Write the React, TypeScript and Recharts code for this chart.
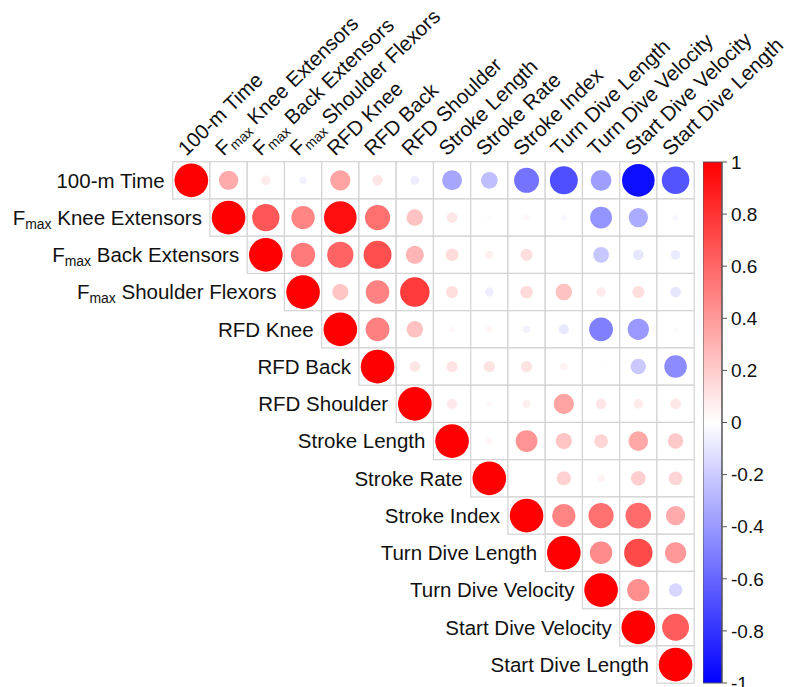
import { ScatterChart, Scatter, XAxis, YAxis, BarChart, Bar } from 'recharts'

// variable names; "_max" marks the subscript in F_max
const variables = [
  '100-m Time',
  'F_max Knee Extensors',
  'F_max Back Extensors',
  'F_max Shoulder Flexors',
  'RFD Knee',
  'RFD Back',
  'RFD Shoulder',
  'Stroke Length',
  'Stroke Rate',
  'Stroke Index',
  'Turn Dive Length',
  'Turn Dive Velocity',
  'Start Dive Velocity',
  'Start Dive Length',
]

// upper triangle of the correlation matrix, each row starts at the diagonal
const time100 = [1, 0.33, 0.08, -0.05, 0.36, 0.1, -0.07, -0.35, -0.25, -0.55, -0.69, -0.38, -0.94, -0.67]
const fmaxKnee = [1, 0.66, 0.48, 0.94, 0.56, 0.24, 0.1, -0.02, 0.03, -0.03, -0.42, -0.33, -0.03]
const fmaxBack = [1, 0.52, 0.61, 0.69, 0.29, 0.14, 0.06, 0.13, 0.01, -0.22, -0.1, -0.08]
const fmaxShoulder = [1, 0.23, 0.49, 0.77, 0.13, -0.07, 0.14, 0.24, 0.08, 0.13, -0.1]
const rfdKnee = [1, 0.5, 0.24, 0.03, 0.04, -0.05, -0.09, -0.5, -0.4, 0.02]
const rfdBack = [1, 0.1, 0.11, 0.11, 0.11, 0.05, 0.01, -0.21, -0.45]
const rfdShoulder = [1, 0.09, 0.03, 0.06, 0.36, 0.1, 0.08, 0.1]
const strokeLength = [1, 0.04, 0.42, 0.23, 0.17, 0.34, 0.21]
const strokeRate = [1, 0.01, 0.18, 0.05, 0.19, 0.17]
const strokeIndex = [1, 0.48, 0.56, 0.58, 0.33]
const turnDiveLength = [1, 0.45, 0.71, 0.4]
const turnDiveVelocity = [1, 0.44, -0.16]
const startDiveVelocity = [1, 0.64]
const startDiveLength = [1]

const rows = [
  time100, fmaxKnee, fmaxBack, fmaxShoulder, rfdKnee, rfdBack, rfdShoulder,
  strokeLength, strokeRate, strokeIndex, turnDiveLength, turnDiveVelocity,
  startDiveVelocity, startDiveLength,
]

const scaleTicks = [-1, -0.8, -0.6, -0.4, -0.2, 0, 0.2, 0.4, 0.6, 0.8, 1]

const W = 791
const H = 687
const N = variables.length
const LEFT = 172.7
const TOP = 161.7
const CELL = 37.25
const FONT = '"Liberation Sans", Arial, sans-serif'
const FS = 20.5

const cells = rows.flatMap((vals, i) => vals.map((r, k) => ({ x: i + k, y: i, r })))
const idx = variables.map((_, i) => i)

function corrColor(r: number) {
  const t = Math.round(255 * (1 - Math.abs(r)))
  return r >= 0 ? `rgb(255,${t},${t})` : `rgb(${t},${t},255)`
}

function labelParts(text: string) {
  if (!text.startsWith('F_max')) return text
  return [
    'F',
    <tspan key="s" fontSize="0.68em" dy={4}>max</tspan>,
    <tspan key="r" dy={-4}>{text.slice(5)}</tspan>,
  ]
}

function CellShape(props: any) {
  const { cx, cy, payload } = props
  const rad = (CELL / 2 - 1.8) * Math.sqrt(Math.abs(payload.r))
  return (
    <g>
      <rect x={cx - CELL / 2} y={cy - CELL / 2} width={CELL} height={CELL} fill="#fff" stroke="#d3d3d3" strokeWidth={1.2} />
      <circle cx={cx} cy={cy} r={rad} fill={corrColor(payload.r)} />
    </g>
  )
}

function RowTick(props: any) {
  const { y, payload } = props
  const x = LEFT + payload.value * CELL - 8
  return (
    <text x={x} y={y} dy="0.36em" textAnchor="end" fontSize={FS} fontFamily={FONT} fill="#111">
      {labelParts(variables[payload.value])}
    </text>
  )
}

function ColTick(props: any) {
  const { x, payload } = props
  const tx = x - 5
  const ty = TOP - 5
  return (
    <text x={tx} y={ty} transform={`rotate(-44, ${tx}, ${ty})`} textAnchor="start" fontSize={FS} fontFamily={FONT} fill="#111">
      {labelParts(variables[payload.value])}
    </text>
  )
}

export default function App() {
  return (
    <div style={{ position: 'absolute', left: 0, top: 0, width: W, height: H, background: '#fff' }}>
      <ScatterChart
        width={W}
        height={H}
        margin={{ top: 0, left: 0, right: W - LEFT - N * CELL, bottom: H - TOP - N * CELL }}
      >
        <XAxis
          type="number" dataKey="x" orientation="top" height={TOP}
          domain={[-0.5, N - 0.5]} ticks={idx} interval={0}
          axisLine={false} tickLine={false} tick={ColTick}
        />
        <YAxis
          type="number" dataKey="y" reversed width={LEFT}
          domain={[-0.5, N - 0.5]} ticks={idx} interval={0}
          axisLine={false} tickLine={false} tick={RowTick}
        />
        <Scatter data={cells} shape={CellShape} isAnimationActive={false} />
      </ScatterChart>

      <div style={{ position: 'absolute', left: 703, top: 0 }}>
        <BarChart
          width={88}
          height={H}
          data={[{ k: 'scale', v: [-1, 1] }]}
          margin={{ top: 162, bottom: 4, left: 0, right: 0 }}
          barCategoryGap={0}
        >
          <defs>
            <linearGradient id="cbGrad" x1="0" y1="0" x2="0" y2="1">
              <stop offset="0" stopColor="#ff0000" />
              <stop offset="0.5" stopColor="#ffffff" />
              <stop offset="1" stopColor="#0000ff" />
            </linearGradient>
          </defs>
          <XAxis dataKey="k" hide />
          <YAxis
            orientation="right" width={69} domain={[-1, 1]} ticks={scaleTicks} interval={0}
            axisLine={{ stroke: '#555' }} tickLine={{ stroke: '#555' }} tickSize={5} tickMargin={4}
            tick={{ fill: '#111', fontSize: 19, fontFamily: FONT }}
          />
          <Bar dataKey="v" fill="url(#cbGrad)" stroke="#555" strokeWidth={1} isAnimationActive={false} />
        </BarChart>
      </div>
    </div>
  )
}
